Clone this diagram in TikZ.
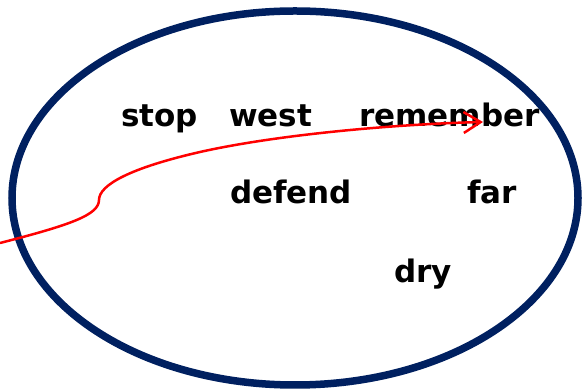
\documentclass[tikz,border=0pt]{standalone}
\usepackage{fontspec}
\setmainfont{DejaVu Sans}
\usetikzlibrary{arrows.meta}
\definecolor{navy}{RGB}{0,32,96}
\tikzset{word/.style={anchor=base west,inner sep=0pt,font=\fontsize{31}{36}\selectfont\bfseries}}
\begin{document}
\begin{tikzpicture}[x=1pt,y=1pt]
\useasboundingbox (0,0) rectangle (583,390);
\draw [navy,line width=7.5pt] (295,192) ellipse (283pt and 187pt);
\node [word] (stop) at (121,263) {stop};
\node [word] (west) at (229,263) {west};
\node [word] (remember) at (359,263) {remember};
\node [word] (defend) at (230,186) {defend};
\node [word] (far) at (467,186) {far};
\node [word] (dry) at (394,107) {dry};
\coordinate (start) at (0,147);
\coordinate (bend) at (99,190);
\coordinate (mid) at (200,238);
\coordinate (tip) at (483,268);
\draw [red,line width=2.5pt,-{Straight Barb[length=17pt,width=21pt]}] (start) .. controls (70,165) and (99,175) .. (bend)
  .. controls (99,205) and (130,222) .. (mid)
  .. controls (280,256) and (400,266) .. (tip);
\end{tikzpicture}
\end{document}
